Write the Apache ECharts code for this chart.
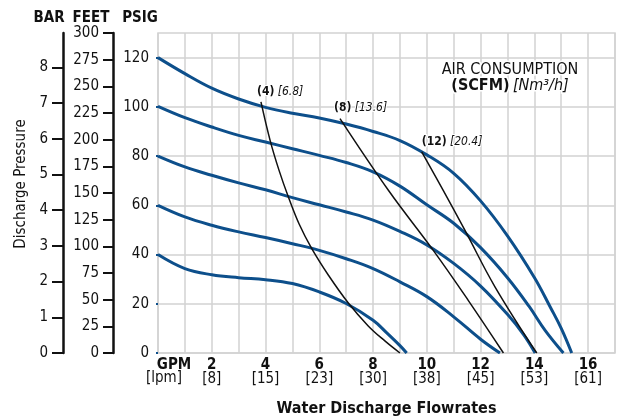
<!DOCTYPE html>
<html>
<head>
<meta charset="utf-8">
<script src="https://cdn.jsdelivr.net/npm/echarts@6/dist/echarts.min.js"></script>
<style>
  html, body { margin: 0; padding: 0; background: #fff; }
  #chart { width: 621px; height: 417px; }
</style>
</head>
<body>
<div id="chart"></div>
<script>
// pump curves by inlet air pressure, points are [gpm, psig]
const psi120 = [[0,120],[1,113.5],[2,107.6],[3,103.2],[4,99.8],[5,97.4],[6,95.5],[7,93],[8,90],[9,86.3],[10,80.5],[11,73],[12,61.8],[13,47.6],[14,30.7],[14.6,18.5],[15,10],[15.39,0]];
const psi100 = [[0,100.2],[1,95.6],[2,91.8],[3,88.4],[4,85.7],[5,83],[6,80.3],[7,77.4],[8,73.6],[9,67.8],[10,60.2],[11,52.7],[12,42.8],[13,30.6],[13.8,19],[14.4,9.2],[15.08,0]];
const psi80  = [[0,80],[1,75.6],[2,72.2],[3,69.1],[4,66.3],[5,63.1],[6,60.2],[7,57.3],[8,54],[9,49.4],[10,43.9],[11,36.4],[12,27.2],[13,15.7],[13.6,7.5],[14.03,0]];
const psi60  = [[0,60],[1,55.3],[2,51.9],[3,49.2],[4,46.9],[5,44.4],[6,41.7],[7,38.3],[8,34.3],[9,28.9],[10,22.9],[11,14.7],[12,5.6],[12.72,0]];
const psi40  = [[0,40],[1,34.3],[2,31.8],[3,30.6],[4,29.8],[5,28.2],[6,24.8],[7,20.1],[8,13.3],[8.5,8.3],[9,3],[9.25,0]];

// air consumption lines (scfm)
const scfm4  = [[3.83,102],[4.17,86.4],[4.5,74.3],[4.85,63.4],[5.25,52.4],[5.72,42.4],[6.34,31.6],[7.08,20.3],[7.82,11],[8.45,4.8],[9.0,0]];
const scfm8  = [[6.77,95.2],[8.57,66.1],[10.24,41.7],[11.54,21.4],[12.85,0]];
const scfm12 = [[9.81,81.7],[10.61,66.1],[11.42,49.8],[12.54,26.8],[14.09,0]];
const scfmNames = ['4', '8', '12'];
const nm3Names = ['6.8', '13.6', '20.4'];

// axis ticks
const gpmTicks = [2, 4, 6, 8, 10, 12, 14, 16];
const lpmTicks = [8, 15, 23, 30, 38, 45, 53, 61];
const psiTicks = [0, 20, 40, 60, 80, 100, 120];
const barTicks = [0, 1, 2, 3, 4, 5, 6, 7, 8];
const feetTicks = [0, 25, 50, 75, 100, 125, 150, 175, 200, 225, 250, 275, 300];

const FONT = "'Liberation Sans Narrow', 'DejaVu Sans Condensed', 'Roboto', sans-serif";
const BLUE = '#0d4f8b';
const GRID = '#d2d2d2';
const PSI_PER_BAR = 14.5038;

let myChart = echarts.init(document.getElementById('chart'));

const blueSeries = [psi120, psi100, psi80, psi60, psi40].map(d => ({
    type: 'line',
    data: d,
    smooth: 0.4,
    symbol: 'none',
    lineStyle: { color: BLUE, width: 3 },
    z: 3
}));

// label offsets next to the first point of each air line
const labelPos = [[-4, -10], [-6, -11], [0, -10]];
const blackSeries = [scfm4, scfm8, scfm12].map((d, i) => ({
    type: 'line',
    data: d,
    smooth: 0.4,
    symbol: 'none',
    lineStyle: { color: '#111', width: 1.5 },
    z: 4,
    markPoint: {
        symbol: 'circle',
        symbolSize: 0,
        data: [{ coord: d[0] }],
        label: {
            show: true,
            position: labelPos[i],
            align: 'left',
            verticalAlign: 'middle',
            formatter: `{b|(${scfmNames[i]})} {i|[${nm3Names[i]}]}`,
            rich: {
                b: { fontFamily: FONT, fontSize: 12, fontWeight: 'bold', color: '#111' },
                i: { fontFamily: FONT, fontSize: 12, fontStyle: 'italic', color: '#111' }
            },
            textBorderColor: '#fff',
            textBorderWidth: 2
        }
    }
}));

const sideAxis = (offset, max, ticks, margin, tickLen) => ({
    type: 'value',
    position: 'left',
    offset: offset,
    min: 0,
    max: max,
    interval: ticks[1] - ticks[0],
    axisLine: { show: true, lineStyle: { color: '#111', width: 2.5 } },
    axisTick: { show: true, length: tickLen, customValues: ticks, lineStyle: { color: '#111', width: 2 } },
    axisLabel: {
        customValues: ticks,
        margin: margin,
        hideOverlap: false,
        fontFamily: FONT, fontSize: 15, color: '#111',
        formatter: v => (ticks.indexOf(Math.round(v * 100) / 100) >= 0 ? String(v) : '')
    },
    splitLine: { show: false }
});

const option = {
    animation: false,
    backgroundColor: '#fff',
    grid: {
        left: 158, right: 6, top: 33, bottom: 64,
        outerBoundsMode: 'none',
        show: true, borderColor: GRID, borderWidth: 1.5
    },
    xAxis: {
        type: 'value',
        min: 0,
        max: 17,
        interval: 1,
        axisLine: { show: false },
        axisTick: { show: false },
        splitLine: { show: true, lineStyle: { color: GRID, width: 1.5 } },
        axisLabel: {
            margin: 6,
            hideOverlap: false,
            formatter: v => {
                const k = gpmTicks.indexOf(v);
                return k < 0 ? '' : `{g|${v}}\n{l|[${lpmTicks[k]}]}`;
            },
            rich: {
                g: { fontFamily: FONT, fontSize: 15, fontWeight: 'bold', color: '#111', lineHeight: 13 },
                l: { fontFamily: FONT, fontSize: 15, color: '#111', lineHeight: 14 }
            }
        },
        name: 'Water Discharge Flowrates',
        nameLocation: 'middle',
        nameGap: 48,
        nameTextStyle: { fontFamily: FONT, fontSize: 16, fontWeight: 'bold', color: '#111' }
    },
    yAxis: [
        {
            type: 'value',
            min: 0,
            max: 130,
            interval: 10,
            axisLine: { show: false },
            axisTick: { show: true, length: 2, customValues: psiTicks, lineStyle: { color: BLUE, width: 2 } },
            axisLabel: {
                margin: 9,
                hideOverlap: false,
                fontFamily: FONT, fontSize: 15, color: '#111',
                formatter: v => (psiTicks.indexOf(v) >= 0 ? String(v) : '')
            },
            splitLine: { show: true, lineStyle: { color: GRID, width: 1.5 } }
        },
        sideAxis(95, 130 / PSI_PER_BAR, barTicks, 15, 11),
        sideAxis(45, 300, feetTicks, 14, 10)
    ],
    graphic: [
        { type: 'text', x: 49, y: 18, style: { text: 'BAR', font: `bold 15px ${FONT}`, fill: '#111', align: 'center', verticalAlign: 'middle' } },
        { type: 'text', x: 91, y: 18, style: { text: 'FEET', font: `bold 15px ${FONT}`, fill: '#111', align: 'center', verticalAlign: 'middle' } },
        { type: 'text', x: 140, y: 18, style: { text: 'PSIG', font: `bold 15px ${FONT}`, fill: '#111', align: 'center', verticalAlign: 'middle' } },
        {
            type: 'text', x: 21, y: 184, rotation: Math.PI / 2,
            style: { text: 'Discharge Pressure', font: `15px ${FONT}`, fill: '#111', align: 'center', verticalAlign: 'middle' }
        },
        { type: 'text', x: 174, y: 365, style: { text: 'GPM', font: `bold 15px ${FONT}`, fill: '#111', align: 'center', verticalAlign: 'middle' } },
        { type: 'text', x: 164, y: 378, style: { text: '[lpm]', font: `15px ${FONT}`, fill: '#111', align: 'center', verticalAlign: 'middle' } },
        {
            type: 'text', x: 510, y: 70, z: 10,
            style: {
                text: 'AIR CONSUMPTION', font: `16px ${FONT}`, fill: '#111',
                align: 'center', verticalAlign: 'middle', stroke: '#fff', lineWidth: 3
            }
        },
        {
            type: 'text', x: 510, y: 86, z: 10,
            style: {
                text: '{b|(SCFM)} {i|[Nm³/h]}',
                align: 'center', verticalAlign: 'middle', stroke: '#fff', lineWidth: 3,
                rich: {
                    b: { font: `bold 16px ${FONT}`, fill: '#111' },
                    i: { font: `italic 16px ${FONT}`, fill: '#111' }
                }
            }
        }
    ],
    series: blueSeries.concat(blackSeries)
};

myChart.setOption(option, true);
window.onresize = function() {
    myChart.resize();
};
</script>
</body>
</html>
